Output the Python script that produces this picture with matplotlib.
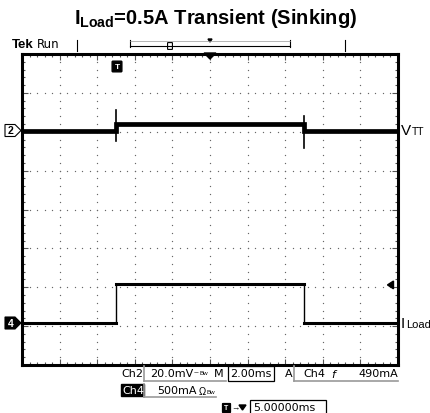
import numpy as np
import matplotlib.pyplot as plt
from matplotlib.patches import Rectangle, FancyBboxPatch, Polygon

# scope settings
ms_per_div = 2.0
ch2_mv_per_div = 20.0
ch4_ma_per_div = 500.0
ch2_pos = 2.03     # divisions above centre
ch4_pos = -2.92

# VTT (Ch2) level, mV relative to its marker
vtt_t = [0.0, 5.0, 5.0, 15.0, 15.0, 20.0]
vtt_mv = [0.0, 0.0, 3.3, 3.3, 0.0, 0.0]
# load step spikes on VTT
spike_t = [5.0, 15.0]
spike_hi = [10.8, 7.7]
spike_lo = [-5.6, -8.8]

# load current (Ch4), mA
iload_t = [0.0, 5.0, 5.0, 15.0, 15.0, 20.0]
iload_ma = [0.0, 0.0, 500.0, 500.0, 0.0, 0.0]
trig_ma = 490.0

W, H = 431, 414
plt.rcParams['font.family'] = ['Liberation Sans', 'DejaVu Sans']
plt.rcParams['mathtext.fontset'] = 'custom'
plt.rcParams['mathtext.bf'] = 'Liberation Sans:bold'
plt.rcParams['mathtext.rm'] = 'Liberation Sans'
fig = plt.figure(figsize=(W / 100, H / 100), dpi=100)


def fx(px):
    return px / W


def fy(py):
    return 1 - py / H


# screen: x 22..398, y 55..366 px
ax = fig.add_axes([fx(22), fy(366), fx(398) - fx(22), fy(55) - fy(366)])
ax.set_xlim(0, 10)
ax.set_ylim(-4, 4)

# dotted graticule
gx, gy = [], []
for i in range(1, 10):
    for k in range(1, 40):
        gx.append(i)
        gy.append(-4 + 0.2 * k)
for j in range(-3, 4):
    for k in range(1, 50):
        gx.append(0.2 * k)
        gy.append(j)
ax.scatter(gx, gy, s=0.9, color='#666666', linewidths=0, zorder=1)

ax.set_xticks(np.arange(0, 10.01, 1))
ax.set_yticks(np.arange(-4, 4.01, 1))
ax.set_xticks(np.arange(0, 10.01, 0.2), minor=True)
ax.set_yticks(np.arange(-4, 4.01, 0.2), minor=True)
ax.tick_params(which='both', direction='in', top=True, right=True,
               labelbottom=False, labelleft=False, color='#555555')
ax.tick_params(which='major', length=4, width=0.8)
ax.tick_params(which='minor', length=2.5, width=0.8)
for s in ax.spines.values():
    s.set_linewidth(2.2)

# traces
tx = np.array(vtt_t) / ms_per_div
ax.plot(tx, ch2_pos + np.array(vtt_mv) / ch2_mv_per_div, color='black', lw=3.4,
        solid_joinstyle='miter', zorder=3)
for t, hi, lo in zip(spike_t, spike_hi, spike_lo):
    ax.plot([t / ms_per_div] * 2, [ch2_pos + lo / ch2_mv_per_div, ch2_pos + hi / ch2_mv_per_div],
            color='black', lw=1.2, zorder=3)

ix = np.array(iload_t) / ms_per_div
iy = ch4_pos + np.array(iload_ma) / ch4_ma_per_div
ax.plot(ix, iy, color='black', lw=1.0, zorder=3)
ax.plot(ix[:2], iy[:2], color='black', lw=2.2, zorder=3)
ax.plot(ix[2:4], iy[2:4], color='black', lw=2.2, zorder=3)
ax.plot(ix[4:], iy[4:], color='black', lw=2.2, zorder=3)

# trigger level arrow on the right
ty = ch4_pos + trig_ma / ch4_ma_per_div
ax.add_patch(Polygon([[9.72, ty], [9.88, ty + 0.1], [9.88, ty - 0.1]], closed=True,
                     color='black', zorder=4))

# title
fig.text(0.5, fy(18), r'$\mathbf{I_{Load}}$=0.5A Transient (Sinking)', ha='center', va='center',
         fontsize=14.5, fontweight='bold')

# header
fig.text(fx(12), fy(45), 'Tek', fontsize=9.5, fontweight='bold', va='center')
fig.text(fx(37), fy(45), 'Run', fontsize=8.5, va='center', family='DejaVu Sans')
for px in [77, 345]:
    fig.add_artist(plt.Line2D([fx(px), fx(px)], [fy(41), fy(52)], color='black', lw=0.8))
for px in [130, 290]:
    fig.add_artist(plt.Line2D([fx(px), fx(px)], [fy(41), fy(48)], color='black', lw=0.8))
fig.add_artist(plt.Line2D([fx(130), fx(290)], [fy(47), fy(47)], color='black', lw=0.8))
fig.add_artist(plt.Line2D([fx(130), fx(290)], [fy(41.5), fy(41.5)], color='#999999', lw=0.5))
fig.add_artist(Polygon([[fx(208), fy(40)], [fx(212), fy(40)], [fx(210), fy(43)]], closed=True,
                       color='black', transform=fig.transFigure))
fig.add_artist(FancyBboxPatch((fx(168), fy(50)), fx(4), fy(44) - fy(50),
                              boxstyle='round,pad=0.001', fc='white', ec='black', lw=0.8,
                              transform=fig.transFigure))
fig.add_artist(Polygon([[fx(204), fy(54)], [fx(216), fy(54)], [fx(210), fy(60)]], closed=True,
                       color='black', transform=fig.transFigure, zorder=5))

# trigger position icon in screen
fig.add_artist(FancyBboxPatch((fx(113), fy(72)), fx(8), fy(63) - fy(72),
                              boxstyle='round,pad=0.002', fc='black', ec='black',
                              transform=fig.transFigure, zorder=5))
fig.text(fx(117), fy(67.5), 'T', color='white', fontsize=6, fontweight='bold',
         ha='center', va='center', zorder=6)


# channel markers
def marker(py, label, inverted):
    fc, tc = ('black', 'white') if inverted else ('white', 'black')
    fig.add_artist(Polygon([[fx(5), fy(py - 6)], [fx(15), fy(py - 6)], [fx(21), fy(py)],
                            [fx(15), fy(py + 6)], [fx(5), fy(py + 6)]], closed=True,
                           fc=fc, ec='black', lw=0.8, transform=fig.transFigure, zorder=5))
    fig.text(fx(11), fy(py), label, color=tc, fontsize=7.5, fontweight='bold',
             ha='center', va='center', zorder=6)


marker(131.5, '2', False)
marker(324, '4', True)

fig.text(fx(401), fy(131), 'V', fontsize=11, va='center')
fig.text(fx(412), fy(132), 'TT', fontsize=7.5, va='center')
fig.text(fx(401), fy(324), 'I', fontsize=11, va='center')
fig.text(fx(406), fy(325), 'Load', fontsize=8, va='center')

# readouts
fs = 8
rd = dict(fontsize=fs, va='center', family='DejaVu Sans')
fig.text(fx(121), fy(374), 'Ch2', **rd)
fig.text(fx(150), fy(374), '20.0mV', **rd)
fig.text(fx(194), fy(374), '~', fontsize=6, va='center')
fig.text(fx(200), fy(374), 'Bw', fontsize=4.5, va='center')
fig.text(fx(214), fy(374), 'M', **rd)
fig.text(fx(230), fy(374), '2.00ms', **rd)
fig.text(fx(285), fy(374), 'A', **rd)
fig.text(fx(303), fy(374), 'Ch4', **rd)
fig.text(fx(331), fy(374), r'$\mathit{f}$', fontsize=fs, va='center')
fig.text(fx(358), fy(374), '490mA', **rd)
fig.add_artist(plt.Line2D([fx(144), fx(226)], [fy(382), fy(382)], color='#999999', lw=1.2))
fig.add_artist(plt.Line2D([fx(144), fx(144)], [fy(367), fy(382)], color='#999999', lw=1.2))
fig.add_artist(Rectangle((fx(228.5), fy(382)), fx(46), fy(367) - fy(382), fc='none', ec='black',
                         lw=0.9, transform=fig.transFigure))
fig.add_artist(plt.Line2D([fx(294), fx(398)], [fy(382), fy(382)], color='#999999', lw=1.2))
fig.add_artist(plt.Line2D([fx(294), fx(294)], [fy(367), fy(382)], color='#999999', lw=1.2))

fig.add_artist(Rectangle((fx(121), fy(397)), fx(23), fy(385) - fy(397), fc='black', ec='black',
                         transform=fig.transFigure))
fig.text(fx(122), fy(391), 'Ch4', color='white', **rd)
fig.text(fx(157), fy(391), '500mA', **rd)
fig.text(fx(198), fy(391), r'$\Omega$', fontsize=7, va='center')
fig.text(fx(207), fy(393), 'Bw', fontsize=4.5, va='center')
fig.add_artist(plt.Line2D([fx(144), fx(216)], [fy(398), fy(398)], color='#999999', lw=1.2))
fig.add_artist(plt.Line2D([fx(144), fx(144)], [fy(385), fy(398)], color='#999999', lw=1.2))

fig.add_artist(FancyBboxPatch((fx(223), fy(413)), fx(7), fy(405) - fy(413),
                              boxstyle='round,pad=0.001', fc='black', ec='black',
                              transform=fig.transFigure))
fig.text(fx(226.5), fy(409), 'T', color='white', fontsize=5, fontweight='bold',
         ha='center', va='center')
fig.text(fx(231), fy(409), '→', fontsize=6, va='center')
fig.add_artist(Polygon([[fx(239), fy(406)], [fx(246), fy(406)], [fx(242.5), fy(411)]], closed=True,
                       color='black', transform=fig.transFigure))
fig.add_artist(Rectangle((fx(250), fy(416)), fx(76), fy(401) - fy(416), fc='none', ec='black',
                         lw=0.9, transform=fig.transFigure))
fig.text(fx(253), fy(408.5), '5.00000ms', **rd)

fig.savefig('out.png', dpi=100)
